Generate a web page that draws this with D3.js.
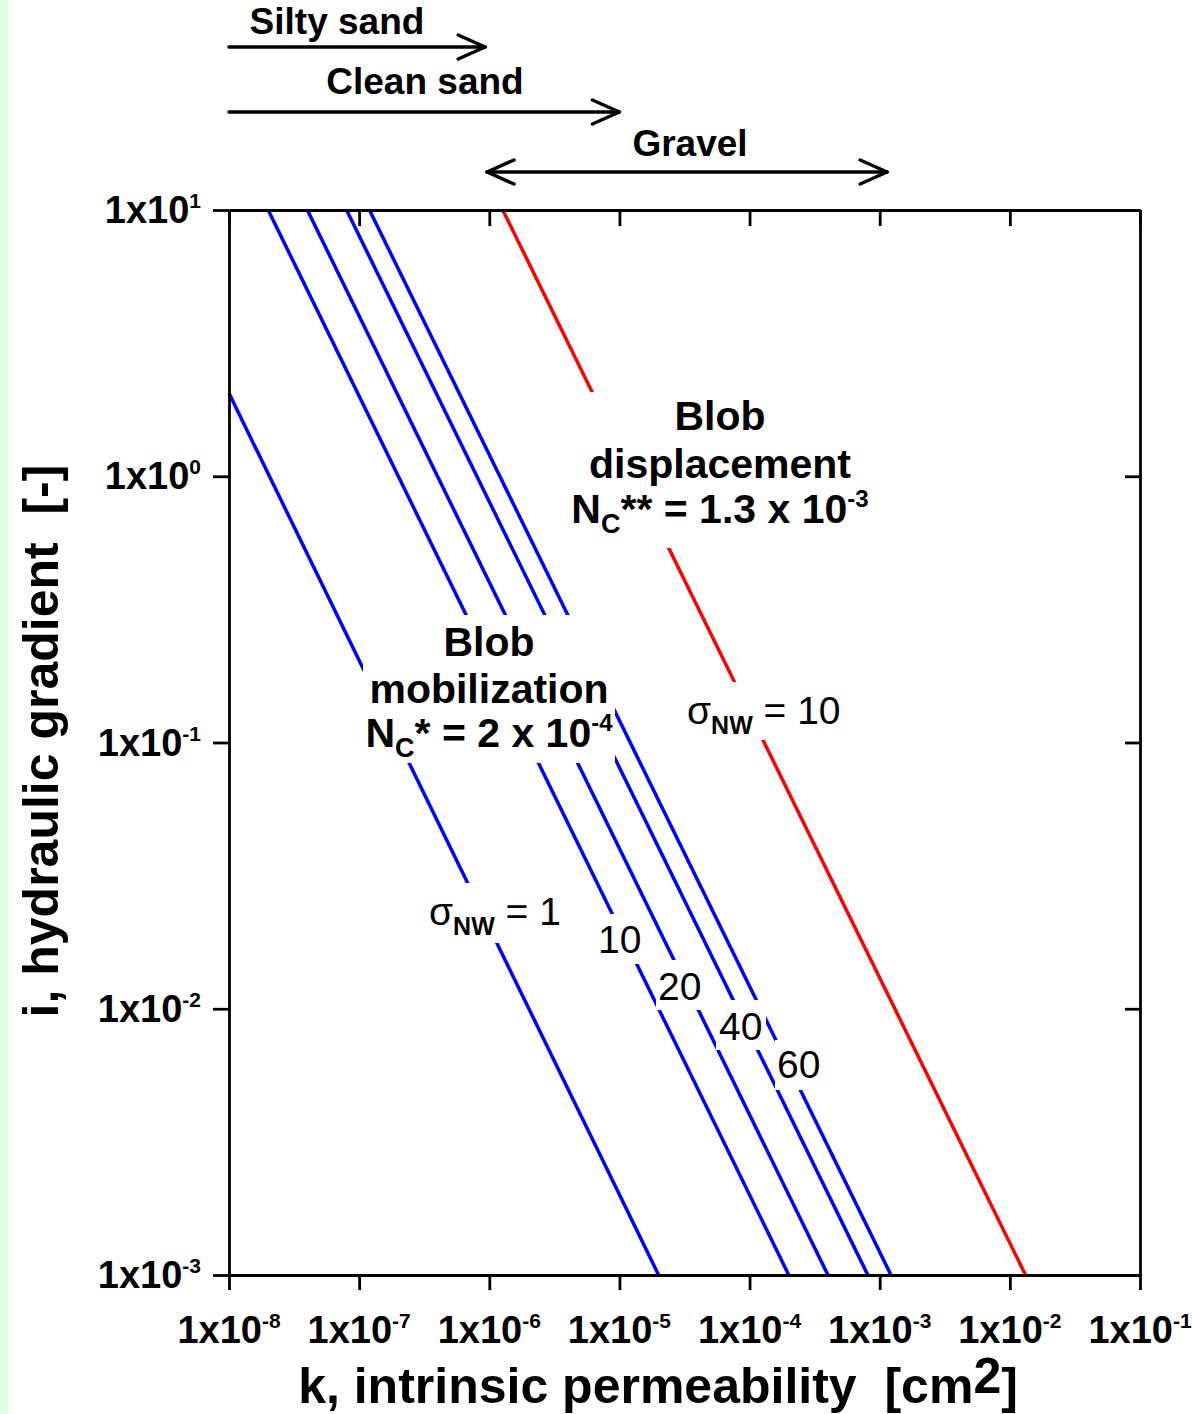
<!DOCTYPE html>
<html><head><meta charset="utf-8">
<script src="https://cdn.jsdelivr.net/npm/d3@7"></script>
<style>
body{margin:0;background:#fff;}
svg{display:block;}
text{font-family:"Liberation Sans",Arial,Helvetica,sans-serif;white-space:pre;}
</style>
</head><body>
<svg id="c" width="1193" height="1414"></svg>
<script>
// ---------- data ----------
const xTickValues = [1e-8, 1e-7, 1e-6, 1e-5, 1e-4, 1e-3, 1e-2, 1e-1];
const xTickExponents = ["-8", "-7", "-6", "-5", "-4", "-3", "-2", "-1"];
const yTickValues = [1e-3, 1e-2, 1e-1, 1, 10];
const yTickExponents = ["-3", "-2", "-1", "0", "1"];

// blue lines: blob mobilization, Nc* = 2e-4, one per sigma_NW
const blueSigma = ["1", "10", "20", "40", "60"];
const blueStartK = [1e-8, 2e-8, 4e-8, 8e-8, 1.2e-7];
const blueStartI = [2.05, 10, 10, 10, 10];
const blueEndK = [2e-5, 2e-4, 4e-4, 8.1e-4, 1.22e-3];
const blueEndI = [1e-3, 1e-3, 1e-3, 1e-3, 1e-3];

// red line: blob displacement, Nc** = 1.3e-3, sigma_NW = 10
const redSigma = ["10"];
const redStartK = [1.27e-6];
const redStartI = [10];
const redEndK = [1.32e-2];
const redEndI = [1e-3];

// soil permeability ranges (top arrows)
const soilNames = ["Silty sand", "Clean sand", "Gravel"];
const soilFromK = [1e-8, 1e-8, 9.6e-7];
const soilToK = [9.3e-7, 1e-5, 1.14e-3];
const soilTwoWay = [false, false, true];

// ---------- layout ----------
const W = 1193, H = 1414;
const PL = 229, PR = 1140, PT = 210, PB = 1275;
const svg = d3.select("#c");
svg.append("rect").attr("width", W).attr("height", H).attr("fill", "#fff");
svg.append("rect").attr("x", 0).attr("y", 0).attr("width", 8).attr("height", H).attr("fill", "#dcfedc");

const x = d3.scaleLog().domain([1e-8, 1e-1]).range([PL, PR]);
const y = d3.scaleLog().domain([1e-3, 10]).range([PB, PT]);

const FONT_TICK = 38, FONT_SUP = 21;

// ---------- lines ----------
const line = d3.line().x(d => x(d[0])).y(d => y(d[1]));
const plot = svg.append("g");
const blueData = blueSigma.map((s, j) => [[blueStartK[j], blueStartI[j]], [blueEndK[j], blueEndI[j]]]);
const redData = redSigma.map((s, j) => [[redStartK[j], redStartI[j]], [redEndK[j], redEndI[j]]]);
plot.selectAll("path.blue").data(blueData).join("path").attr("class", "blue")
  .attr("d", line).attr("fill", "none").attr("stroke", "#0000ff").attr("stroke-width", 3.5);
plot.selectAll("path.red").data(redData).join("path").attr("class", "red")
  .attr("d", line).attr("fill", "none").attr("stroke", "#ff0000").attr("stroke-width", 3.5);

// ---------- label background boxes (gaps in lines) ----------
const boxes = [
  [562, 392, 878, 548],   // blob displacement
  [363, 615, 615, 763],   // blob mobilization
  [425, 883, 565, 943],   // sigma = 1
  [595, 914, 641, 964],   // 10
  [656, 960, 705, 1010],  // 20
  [716, 1000, 766, 1050], // 40
  [775, 1040, 823, 1090], // 60
  [683, 682, 851, 740]    // red sigma = 10
];
svg.append("g").selectAll("rect").data(boxes).join("rect")
  .attr("x", d => d[0]).attr("y", d => d[1])
  .attr("width", d => d[2] - d[0]).attr("height", d => d[3] - d[1])
  .attr("fill", "#fff");

// ---------- axes ----------
function styleAxis(g) {
  g.selectAll("path.domain").attr("stroke", "#000").attr("stroke-width", 2.8);
  g.selectAll(".tick line").attr("stroke", "#000").attr("stroke-width", 2.8);
  g.selectAll(".tick text").remove();
}
svg.append("g").attr("transform", `translate(0,${PB})`)
  .call(d3.axisBottom(x).tickValues(xTickValues).tickSizeInner(15).tickSizeOuter(0).tickFormat(() => ""))
  .call(styleAxis);
svg.append("g").attr("transform", `translate(0,${PT})`)
  .call(d3.axisTop(x).tickValues(xTickValues).tickSizeInner(-16).tickSizeOuter(0).tickFormat(() => ""))
  .call(styleAxis);
svg.append("g").attr("transform", `translate(${PL},0)`)
  .call(d3.axisLeft(y).tickValues(yTickValues).tickSizeInner(16).tickSizeOuter(0).tickFormat(() => ""))
  .call(styleAxis);
svg.append("g").attr("transform", `translate(${PR},0)`)
  .call(d3.axisRight(y).tickValues(yTickValues).tickSizeInner(-15).tickSizeOuter(0).tickFormat(() => ""))
  .call(styleAxis);

// tick labels with superscript exponents
const xl = svg.append("g").selectAll("text").data(xTickValues).join("text")
  .attr("x", d => x(d)).attr("y", PB + 68).attr("text-anchor", "middle")
  .attr("font-weight", "bold").attr("font-size", FONT_TICK);
xl.append("tspan").text("1x10");
xl.append("tspan").attr("font-size", FONT_SUP).attr("dy", -15).text((d, j) => xTickExponents[j]);

const yl = svg.append("g").selectAll("text").data(yTickValues).join("text")
  .attr("x", 201).attr("y", d => y(d) + 13).attr("text-anchor", "end")
  .attr("font-weight", "bold").attr("font-size", FONT_TICK);
yl.append("tspan").text("1x10");
yl.append("tspan").attr("font-size", FONT_SUP).attr("dy", -15).text((d, j) => yTickExponents[j]);

// axis titles
const xt = svg.append("text").attr("x", 658).attr("y", 1403).attr("text-anchor", "middle")
  .attr("font-weight", "bold").attr("font-size", 50);
xt.append("tspan").text("k, intrinsic permeability  [cm");
xt.append("tspan").attr("dy", -10).text("2");
xt.append("tspan").attr("dy", 10).text("]");

svg.append("text").attr("transform", "translate(58,741) rotate(-90)").attr("text-anchor", "middle")
  .attr("font-weight", "bold").attr("font-size", 50).text("i, hydraulic gradient  [-]");

// ---------- soil range arrows ----------
const soilY = [47, 112, 172];
const soilLabelY = [34, 94, 156];
const soilLabelX = [337, 425, 690];
const arr = svg.append("g").attr("stroke", "#000").attr("stroke-width", 3.5).attr("fill", "none")
  .attr("stroke-linecap", "round").attr("stroke-linejoin", "round");
soilNames.forEach((nm, j) => {
  const x0 = x(soilFromK[j]), x1 = x(soilToK[j]), yy = soilY[j];
  arr.append("line").attr("x1", x0).attr("x2", x1).attr("y1", yy).attr("y2", yy);
  arr.append("polyline").attr("points", `${x1 - 27},${yy - 12} ${x1},${yy} ${x1 - 27},${yy + 12}`);
  if (soilTwoWay[j]) arr.append("polyline").attr("points", `${x0 + 27},${yy - 12} ${x0},${yy} ${x0 + 27},${yy + 12}`);
  svg.append("text").attr("x", soilLabelX[j]).attr("y", soilLabelY[j]).attr("text-anchor", "middle")
    .attr("font-weight", "bold").attr("font-size", 37).text(nm);
});

// ---------- region annotations ----------
function block(cx, ys, lines3, ncParts) {
  const g = svg.append("g").attr("font-weight", "bold").attr("font-size", 41).attr("text-anchor", "middle");
  g.append("text").attr("x", cx).attr("y", ys[0]).text(lines3[0]);
  g.append("text").attr("x", cx).attr("y", ys[1]).text(lines3[1]);
  const t = g.append("text").attr("x", cx).attr("y", ys[2]);
  t.append("tspan").text("N");
  t.append("tspan").attr("font-size", 27).attr("dy", 10).text("C");
  t.append("tspan").attr("dy", -10).text(ncParts[0]);
  t.append("tspan").attr("font-size", 24).attr("dy", -16).text(ncParts[1]);
}
block(720, [430, 478, 523], ["Blob", "displacement"], ["** = 1.3 x 10", "-3"]);
block(489, [656, 703, 747], ["Blob", "mobilization"], ["* = 2 x 10", "-4"]);

function sigmaLabel(x0, yb, val) {
  const t = svg.append("text").attr("x", x0).attr("y", yb).attr("font-size", 39);
  t.append("tspan").text("σ");
  t.append("tspan").attr("font-size", 25).attr("font-weight", "bold").attr("dy", 10).text("NW");
  t.append("tspan").attr("dy", -10).text(" = " + val);
}
sigmaLabel(429, 925, blueSigma[0]);
sigmaLabel(687, 724, redSigma[0]);

const numPos = [[598, 953], [658, 1000], [719, 1040], [777, 1078]];
blueSigma.slice(1).forEach((s, j) => {
  svg.append("text").attr("x", numPos[j][0]).attr("y", numPos[j][1]).attr("font-size", 39).text(s);
});
</script>
</body></html>
